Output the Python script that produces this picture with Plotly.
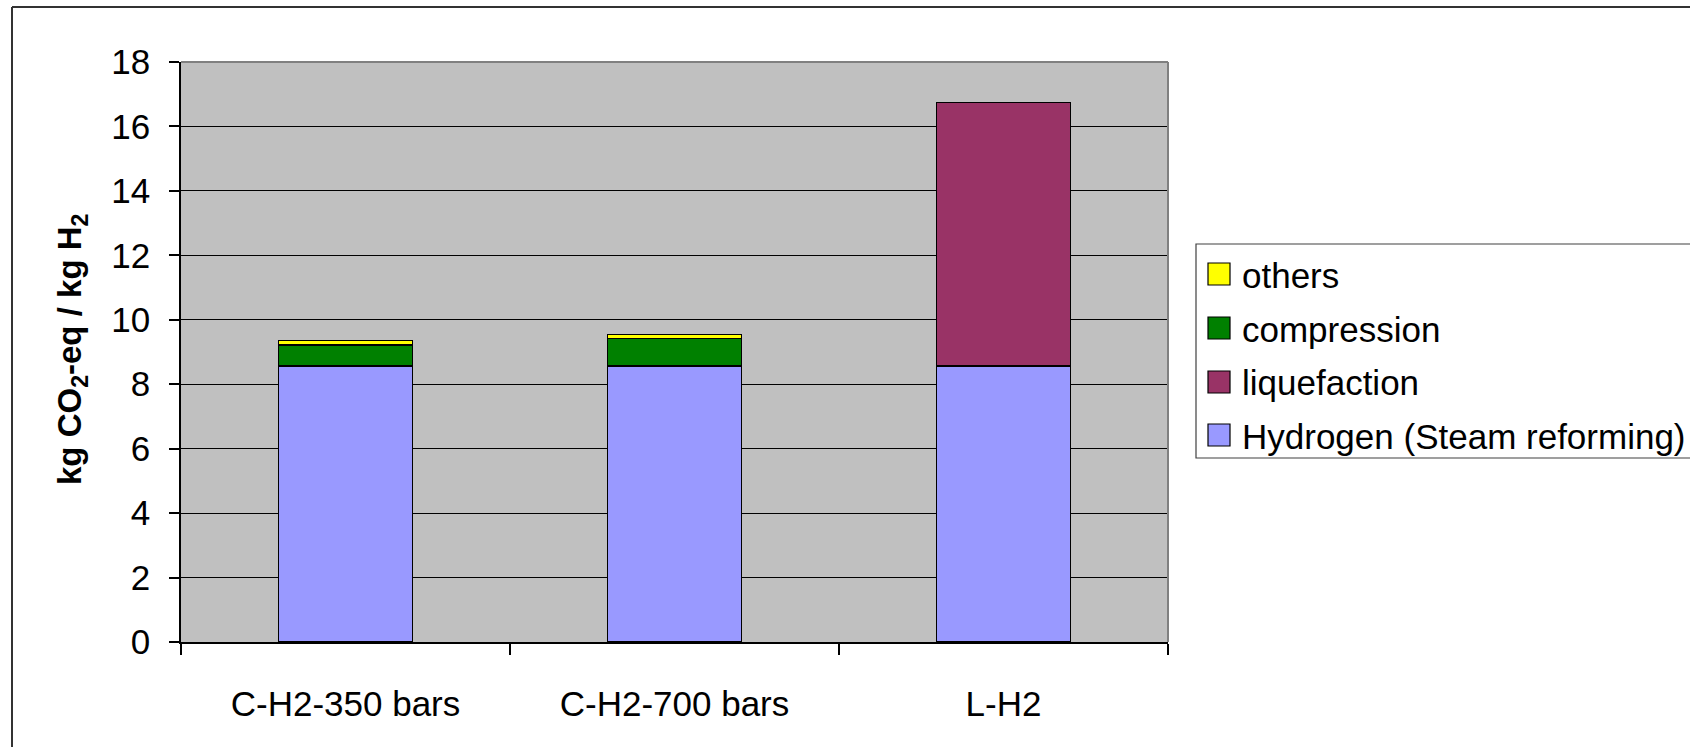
import plotly.graph_objects as go

# Chart data
categories = ["C-H2-350 bars", "C-H2-700 bars", "L-H2"]
hydrogen = [8.57, 8.57, 8.57]
liquefaction = [None, None, 8.17]
compression = [0.65, 0.85, None]
others = [0.13, 0.13, None]

series_names = ["Hydrogen (Steam reforming)", "liquefaction", "compression", "others"]
series_values = [hydrogen, liquefaction, compression, others]
series_colors = ["#9999FF", "#993366", "#008000", "#FFFF00"]

y_ticks = [0, 2, 4, 6, 8, 10, 12, 14, 16, 18]

W, H = 1690, 747
L, R, T, B = 181, 1168, 62, 642  # plot area in pixels
FONT = "Liberation Sans, Arial, sans-serif"
FS = 35


def px(x):
    return (x - L) / (R - L)


def py(y):
    return (B - y) / (B - T)


fig = go.Figure()
for name, vals, col in zip(series_names, series_values, series_colors):
    fig.add_trace(go.Bar(
        x=categories, y=vals, name=name, showlegend=False,
        marker=dict(color=col, line=dict(color="black", width=1.5)),
    ))

shapes = []
annotations = []

# outer frame (top and left edges)
shapes.append(dict(type="line", xref="paper", yref="paper",
                   x0=px(12), x1=px(W + 5), y0=py(7), y1=py(7),
                   line=dict(color="#333333", width=2)))
shapes.append(dict(type="line", xref="paper", yref="paper",
                   x0=px(12), x1=px(12), y0=py(7), y1=py(H + 5),
                   line=dict(color="#333333", width=2)))

# plot-area border on top and right
shapes.append(dict(type="line", xref="paper", yref="paper",
                   x0=0, x1=1, y0=1, y1=1, line=dict(color="#808080", width=2)))
shapes.append(dict(type="line", xref="paper", yref="paper",
                   x0=1, x1=1, y0=0, y1=1, line=dict(color="#808080", width=2)))

# legend box
shapes.append(dict(type="rect", xref="paper", yref="paper",
                   x0=px(1196), x1=px(W + 10), y0=py(458), y1=py(244),
                   line=dict(color="#404040", width=1.2), fillcolor="white"))

legend_rows = [("others", "#FFFF00", 274), ("compression", "#008000", 328),
               ("liquefaction", "#993366", 382),
               ("Hydrogen (Steam reforming)", "#9999FF", 435)]
for label, col, cy in legend_rows:
    shapes.append(dict(type="rect", xref="paper", yref="paper",
                       x0=px(1208), x1=px(1230), y0=py(cy + 11), y1=py(cy - 11),
                       line=dict(color="black", width=1.2), fillcolor=col))
    annotations.append(dict(xref="paper", yref="paper", x=px(1240), y=py(cy + 1),
                            xanchor="left", yanchor="middle", showarrow=False,
                            text=label, font=dict(family=FONT, size=FS, color="black")))

# y-axis title
annotations.append(dict(xref="paper", yref="paper", x=px(72), y=py(350),
                        xanchor="center", yanchor="middle", showarrow=False,
                        textangle=-90,
                        text="<b>kg CO<sub>2</sub>-eq / kg H<sub>2</sub></b>",
                        font=dict(family=FONT, size=33, color="black")))

fig.update_layout(
    width=W, height=H,
    margin=dict(l=L, r=W - R, t=T, b=H - B, pad=0),
    barmode="stack", bargap=0.593,
    plot_bgcolor="#C0C0C0", paper_bgcolor="white",
    font=dict(family=FONT, size=FS, color="black"),
    shapes=shapes, annotations=annotations,
    showlegend=False,
)
fig.update_yaxes(
    range=[0, 18], tickvals=y_ticks, showgrid=True, gridcolor="black", gridwidth=1,
    showline=True, linecolor="black", linewidth=1.5, zeroline=False,
    ticks="outside", ticklen=10, tickcolor="black", tickwidth=1.5,
    ticklabelstandoff=12, tickfont=dict(family=FONT, size=FS),
)
fig.update_xaxes(
    showgrid=False, showline=True, linecolor="black", linewidth=2,
    ticks="outside", tickson="boundaries", ticklen=11, tickcolor="black", tickwidth=1.5,
    ticklabelstandoff=30, tickfont=dict(family=FONT, size=FS),
)

fig.write_html("out.html")
